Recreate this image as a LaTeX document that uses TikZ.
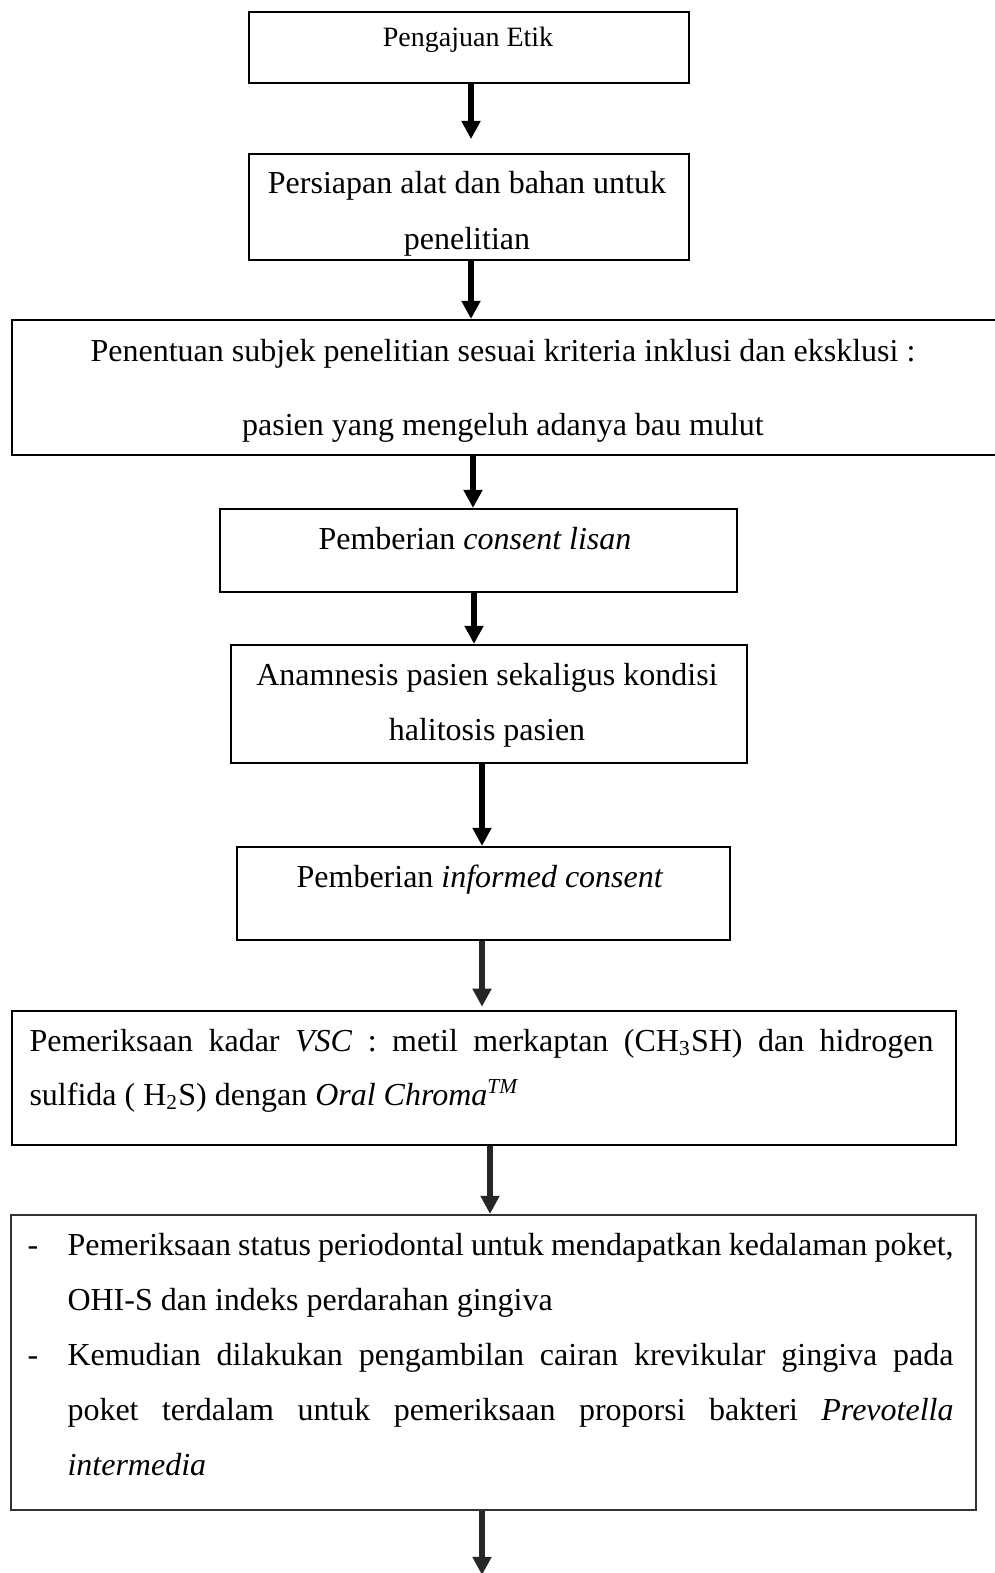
\documentclass[tikz,border=0pt]{standalone}
\usepackage{fontspec}
\setmainfont{Liberation Serif}
\usetikzlibrary{arrows.meta,fit}

\tikzset{
  box/.style={draw,line width=0.8pt,inner sep=0pt},
  txt/.style={anchor=base,inner sep=0pt,font=\fontsize{12}{14}\selectfont},
  arr/.style={line width=2.6pt,-{Triangle[length=6.8pt,width=6.8pt]}},
}

\begin{document}
\begin{tikzpicture}[x=0.375pt,y=-0.375pt]
  \useasboundingbox (0,0) rectangle (994,1573);

  \node[box,fit={(249,12) (689,83)}] (etik) {};
  \node[txt,font=\fontsize{10.5}{12}\selectfont] (etikT) at (468,47) {Pengajuan Etik};

  \node[box,fit={(249,154) (689,260)}] (persiapan) {};
  \node[txt] (persiapanA) at (467,193) {Persiapan alat dan bahan untuk};
  \node[txt] (persiapanB) at (467,249) {penelitian};

  \node[box,fit={(12,320) (997,455)}] (subjek) {};
  \node[txt] (subjekA) at (503,361)
    {Penentuan subjek penelitian sesuai kriteria inklusi dan eksklusi :};
  \node[txt] (subjekB) at (503,435) {pasien yang mengeluh adanya bau mulut};

  \node[box,fit={(220,509) (737,592)}] (lisan) {};
  \node[txt] (lisanT) at (475,549) {Pemberian \textit{consent lisan}};

  \node[box,fit={(231,645) (747,763)}] (anamnesis) {};
  \node[txt] (anamnesisA) at (487,685) {Anamnesis pasien sekaligus kondisi};
  \node[txt] (anamnesisB) at (487,740) {halitosis pasien};

  \node[box,fit={(237,847) (730,940)}] (informed) {};
  \node[txt] (informedT) at (480,887) {Pemberian \textit{informed consent}};

  % justified lines are spread to the box width
  \node[box,fit={(12,1011) (956,1145)}] (vsc) {};
  \node[txt,anchor=base west] (vscA) at (29,1051)
    {\makebox[339pt][s]{Pemeriksaan kadar \textit{VSC} : metil merkaptan
      (CH\textsubscript{3}SH) dan hidrogen}};
  \node[txt,anchor=base west] (vscB) at (29,1105)
    {sulfida ( H\textsubscript{2}S) dengan \textit{Oral Chroma\textsuperscript{TM}}};

  \node[box,draw=black!80,fit={(11,1215) (976,1510)}] (periodontal) {};
  \node[txt] (dashA) at (33,1255) {-};
  \node[txt] (dashB) at (33,1365) {-};
  \node[txt,anchor=base west] (periA) at (67,1255)
    {\makebox[332.25pt][s]{Pemeriksaan status periodontal untuk mendapatkan
      kedalaman poket,}};
  \node[txt,anchor=base west] (periB) at (67,1310)
    {OHI-S dan indeks perdarahan gingiva};
  \node[txt,anchor=base west] (periC) at (67,1365)
    {\makebox[332.25pt][s]{Kemudian dilakukan pengambilan cairan krevikular
      gingiva pada}};
  \node[txt,anchor=base west] (periD) at (67,1420)
    {\makebox[332.25pt][s]{poket terdalam untuk pemeriksaan proporsi bakteri
      \textit{Prevotella}}};
  \node[txt,anchor=base west] (periE) at (67,1475) {\textit{intermedia}};

  \coordinate (akhir) at (482,1575);

  \draw[arr,shorten >=5.2pt] (etik.south -| 471,0) -- (persiapan.north -| 471,0);
  \draw[arr] (persiapan.south -| 471,0) -- (subjek.north -| 471,0);
  \draw[arr] (subjek.south -| 473,0) -- (lisan.north -| 473,0);
  \draw[arr] (lisan.south -| 474,0) -- (anamnesis.north -| 474,0);
  \draw[arr] (anamnesis.south -| 482,0) -- (informed.north -| 482,0);
  \draw[arr,black!85,shorten >=1.2pt] (informed.south -| 482,0) -- (vsc.north -| 482,0);
  \draw[arr,black!85] (vsc.south -| 490,0) -- (periodontal.north -| 490,0);
  \draw[arr,black!85] (periodontal.south -| akhir) -- (akhir);
\end{tikzpicture}
\end{document}
